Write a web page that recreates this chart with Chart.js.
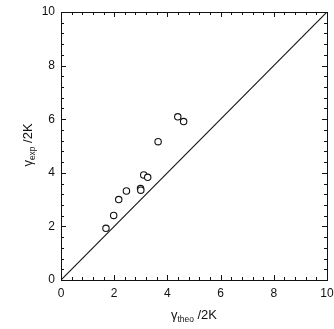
<!DOCTYPE html>
<html>
<head>
<meta charset="utf-8">
<script src="https://cdn.jsdelivr.net/npm/chart.js@4.4.0/dist/chart.umd.min.js"></script>
<style>
html,body{margin:0;padding:0;background:#fff;}
#wrap{width:334px;height:329px;position:relative;}
</style>
</head>
<body>
<div id="wrap"><canvas id="c" width="334" height="329"></canvas></div>
<script>
const xTheo = [1.69, 1.98, 2.17, 2.46, 2.99, 3.00, 3.11, 3.26, 3.65, 4.39, 4.61];
const yExp  = [1.93, 2.41, 3.00, 3.32, 3.41, 3.35, 3.92, 3.83, 5.16, 6.09, 5.91];
const lineX = [0, 10];
const lineY = [0, 10];
const majorTicks = [0, 2, 4, 6, 8, 10];
const minorStep = 0.4;
const xTitle = {sym: 'γ', sub: 'theo', rest: ' /2K'};
const yTitle = {sym: 'γ', sub: 'exp', rest: ' /2K'};

const FONT = '"Liberation Sans", Arial, Helvetica, sans-serif';

function drawTitle(ctx, t, cx, cy, size) {
  ctx.font = size + 'px ' + FONT;
  const w1 = ctx.measureText(t.sym).width;
  const w3 = ctx.measureText(t.rest).width;
  ctx.font = (size * 0.65) + 'px ' + FONT;
  const w2 = ctx.measureText(t.sub).width;
  const total = w1 + w2 + w3;
  let x = cx - total / 2;
  ctx.textBaseline = 'alphabetic';
  ctx.textAlign = 'left';
  ctx.font = size + 'px ' + FONT;
  ctx.fillText(t.sym, x, cy + size * 0.36);
  x += w1;
  ctx.font = (size * 0.65) + 'px ' + FONT;
  ctx.fillText(t.sub, x, cy + size * 0.62);
  x += w2;
  ctx.font = size + 'px ' + FONT;
  ctx.fillText(t.rest, x, cy + size * 0.36);
}

const framePlugin = {
  id: 'frame',
  afterDraw(chart) {
    const ctx = chart.ctx;
    const xs = chart.scales.x, ys = chart.scales.y;
    const L = xs.getPixelForValue(0), R = xs.getPixelForValue(10);
    const B = ys.getPixelForValue(0), T = ys.getPixelForValue(10);
    ctx.save();
    ctx.strokeStyle = '#111';
    ctx.lineWidth = 1;
    ctx.strokeRect(Math.round(L) + 0.5, Math.round(T) + 0.5, Math.round(R - L), Math.round(B - T));
    const n = Math.round(10 / minorStep);
    ctx.beginPath();
    for (let i = 0; i <= n; i++) {
      const v = i * minorStep;
      const major = Math.abs(v / 2 - Math.round(v / 2)) < 1e-6;
      const len = major ? 5 : 3;
      const px = Math.round(xs.getPixelForValue(v)) + 0.5;
      const py = Math.round(ys.getPixelForValue(v)) + 0.5;
      ctx.moveTo(px, B); ctx.lineTo(px, B - len);
      ctx.moveTo(px, T); ctx.lineTo(px, T + len);
      ctx.moveTo(L, py); ctx.lineTo(L + len, py);
      ctx.moveTo(R, py); ctx.lineTo(R - len, py);
    }
    ctx.stroke();
    ctx.fillStyle = '#111';
    ctx.font = '12px ' + FONT;
    ctx.textAlign = 'center';
    ctx.textBaseline = 'middle';
    majorTicks.forEach(v => {
      ctx.fillText(String(v), xs.getPixelForValue(v), B + 14);
    });
    ctx.textAlign = 'right';
    majorTicks.forEach(v => {
      ctx.fillText(String(v), L - 6, ys.getPixelForValue(v));
    });
    drawTitle(ctx, xTitle, 194, 314, 13);
    ctx.save();
    ctx.translate(27, 145);
    ctx.rotate(-Math.PI / 2);
    drawTitle(ctx, yTitle, 0, 0, 13);
    ctx.restore();
    ctx.restore();
  }
};

new Chart(document.getElementById('c'), {
  type: 'scatter',
  data: {
    datasets: [
      {
        data: xTheo.map((x, i) => ({x: x, y: yExp[i]})),
        pointRadius: 3.2,
        pointBorderWidth: 1.1,
        pointBorderColor: '#111',
        pointBackgroundColor: '#fff',
        showLine: false
      },
      {
        data: lineX.map((x, i) => ({x: x, y: lineY[i]})),
        showLine: true,
        borderColor: '#111',
        borderWidth: 1.1,
        pointRadius: 0,
        fill: false
      }
    ]
  },
  options: {
    responsive: false,
    animation: false,
    devicePixelRatio: 1,
    layout: {padding: {left: 61, right: 7, top: 12, bottom: 49}},
    plugins: {legend: {display: false}, tooltip: {enabled: false}},
    scales: {
      x: {type: 'linear', min: 0, max: 10, display: false},
      y: {type: 'linear', min: 0, max: 10, display: false}
    }
  },
  plugins: [framePlugin]
});
</script>
</body>
</html>
